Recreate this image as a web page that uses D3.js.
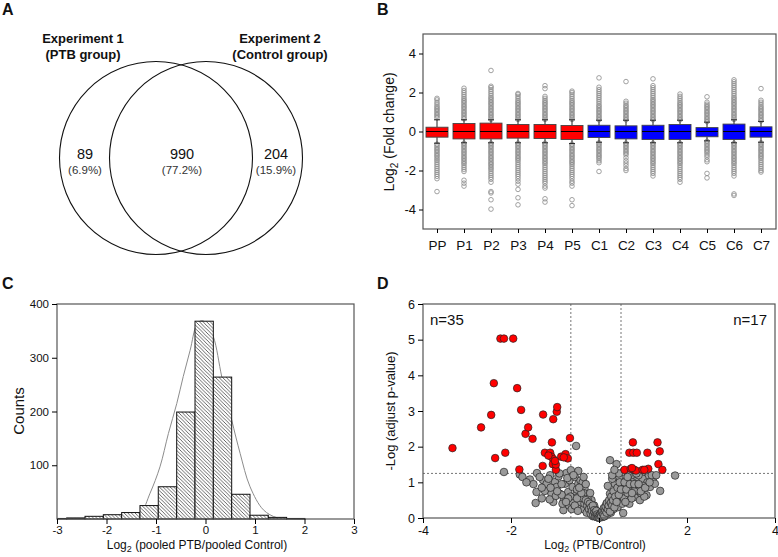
<!DOCTYPE html>
<html><head><meta charset="utf-8">
<script src="https://cdn.jsdelivr.net/npm/d3@7"></script>
<style>body{margin:0;background:#fff}svg{display:block}text{font-family:Arial,"Liberation Sans",sans-serif;fill:#111}</style>
</head><body><svg id="c" width="778" height="557"></svg>
<script>
// ---------- Panel A data ----------
const vennTitles = [["Experiment 1","(PTB group)"],["Experiment 2","(Control group)"]];
const vennCounts = [89, 990, 204];
const vennPct = ["(6.9%)","(77.2%)","(15.9%)"];

// ---------- Panel B data ----------
const boxCats = ["PP","P1","P2","P3","P4","P5","C1","C2","C3","C4","C5","C6","C7"];
const boxGroup = ["P","P","P","P","P","P","C","C","C","C","C","C","C"];
const boxQ1 = [-0.29,-0.38,-0.38,-0.34,-0.36,-0.41,-0.31,-0.38,-0.41,-0.41,-0.27,-0.41,-0.29];
const boxMed = [0,0,0,0,0,0,0,0,0,0,0,0,0];
const boxQ3 = [0.22,0.41,0.43,0.36,0.36,0.31,0.32,0.29,0.32,0.36,0.20,0.38,0.24];
const boxLow = [-0.6,-0.58,-0.58,-0.58,-0.58,-0.62,-0.55,-0.58,-0.58,-0.58,-0.48,-0.58,-0.55];
const boxHigh = [0.6,0.6,0.6,0.6,0.6,0.6,0.58,0.58,0.58,0.58,0.48,0.6,0.52];
const boxOut = [
 [0.7,0.78,0.85,0.92,1.0,1.08,1.15,1.22,1.3,1.4,1.5,1.62,1.7,-0.65,-0.72,-0.8,-0.88,-0.95,-1.02,-1.1,-1.18,-1.25,-1.33,-1.42,-1.5,-1.6,-1.7,-1.8,-1.9,-2.0,-2.1,-2.2,-2.3,-2.42,-3.08],
 [0.65,0.72,0.8,0.88,0.95,1.02,1.1,1.18,1.25,1.32,1.4,1.48,1.55,1.62,1.7,1.8,1.9,2.0,2.1,2.22,-0.6,-0.68,-0.75,-0.82,-0.9,-0.98,-1.05,-1.12,-1.2,-1.28,-1.35,-1.42,-1.5,-1.58,-1.65,-1.75,-1.85,-1.95,-2.05,-2.5,-2.65,-2.8],
 [0.62,0.7,0.78,0.85,0.92,1.0,1.08,1.15,1.22,1.3,1.38,1.45,1.52,1.6,1.68,1.75,1.85,1.95,2.05,2.15,2.25,2.32,3.13,-0.6,-0.68,-0.75,-0.82,-0.9,-0.98,-1.05,-1.12,-1.2,-1.28,-1.35,-1.42,-1.5,-1.58,-1.65,-1.72,-1.8,-1.88,-1.95,-2.05,-2.15,-2.25,-2.35,-2.45,-2.6,-3.08,-3.15,-3.5,-3.98],
 [0.62,0.7,0.78,0.85,0.92,1.0,1.08,1.15,1.22,1.3,1.38,1.45,1.52,1.6,1.7,1.8,1.9,1.95,-0.6,-0.68,-0.75,-0.82,-0.9,-0.98,-1.05,-1.12,-1.2,-1.28,-1.35,-1.42,-1.5,-1.6,-1.7,-1.8,-1.9,-2.0,-2.1,-2.2,-2.3,-2.42,-2.55,-2.7,-2.97,-3.4,-3.76],
 [0.62,0.7,0.78,0.85,0.92,1.0,1.08,1.15,1.22,1.3,1.38,1.45,1.52,1.6,1.7,1.8,2.2,2.35,-0.6,-0.68,-0.75,-0.82,-0.9,-0.98,-1.05,-1.12,-1.2,-1.28,-1.35,-1.42,-1.5,-1.58,-1.65,-1.75,-1.85,-1.95,-2.05,-2.15,-2.25,-2.35,-2.45,-2.55,-2.65,-2.8,-2.9,-3.45,-3.62],
 [0.62,0.7,0.78,0.85,0.92,1.0,1.08,1.15,1.22,1.3,1.38,1.45,1.52,1.6,1.7,1.8,1.9,2.0,2.07,-0.65,-0.72,-0.8,-0.88,-0.95,-1.02,-1.1,-1.18,-1.25,-1.32,-1.4,-1.48,-1.55,-1.62,-1.7,-1.8,-1.9,-2.0,-2.1,-2.2,-2.3,-2.42,-2.55,-2.65,-2.8,-3.5,-3.8],
 [0.6,0.68,0.75,0.82,0.9,0.98,1.05,1.12,1.2,1.28,1.35,1.45,1.55,1.65,1.75,1.85,1.95,2.05,2.15,2.27,2.75,-0.58,-0.65,-0.72,-0.8,-0.88,-0.95,-1.02,-1.1,-1.18,-1.25,-1.32,-1.4,-1.5,-1.6,-2.05],
 [0.6,0.68,0.75,0.82,0.9,0.98,1.05,1.12,1.2,1.28,1.35,1.45,1.55,2.56,-0.6,-0.68,-0.75,-0.82,-0.9,-0.98,-1.05,-1.12,-1.2,-1.35,-1.5,-1.62,-1.75,-1.9,-2.0],
 [0.6,0.68,0.75,0.82,0.9,0.98,1.05,1.12,1.2,1.28,1.35,1.42,1.5,1.58,1.65,1.75,1.85,1.95,2.05,2.15,2.25,2.35,2.7,-0.6,-0.68,-0.75,-0.82,-0.9,-0.98,-1.05,-1.12,-1.2,-1.28,-1.35,-1.42,-1.5,-1.58,-1.65,-1.75,-1.85,-1.95,-2.05,-2.15,-2.28],
 [0.6,0.68,0.75,0.82,0.9,0.98,1.05,1.12,1.2,1.28,1.35,1.42,1.5,1.6,1.7,1.8,1.92,-0.6,-0.68,-0.75,-0.82,-0.9,-0.98,-1.05,-1.12,-1.2,-1.28,-1.35,-1.42,-1.5,-1.58,-1.65,-1.75,-1.85,-1.95,-2.05,-2.15,-2.25,-2.35,-2.45,-2.6],
 [0.5,0.58,0.65,0.72,0.8,0.88,0.95,1.02,1.1,1.18,1.25,1.32,1.4,1.5,1.78,-0.5,-0.58,-0.65,-0.72,-0.8,-0.88,-0.95,-1.02,-1.1,-1.2,-1.3,-1.45,-1.55,-2.15,-2.38],
 [0.62,0.7,0.78,0.85,0.92,1.0,1.08,1.15,1.22,1.3,1.38,1.45,1.52,1.6,1.68,1.75,1.85,1.95,2.05,2.15,2.25,2.35,2.45,2.55,2.65,-0.6,-0.68,-0.75,-0.82,-0.9,-0.98,-1.05,-1.12,-1.2,-1.28,-1.35,-1.42,-1.5,-1.58,-1.65,-1.75,-1.85,-1.95,-2.05,-2.15,-2.28,-3.2,-3.28],
 [0.55,0.62,0.7,0.78,0.85,0.92,1.0,1.08,1.15,1.22,1.3,1.4,1.5,1.6,2.2,-0.58,-0.65,-0.72,-0.8,-0.88,-0.95,-1.02,-1.1,-1.18,-1.25,-1.32,-1.4,-1.5,-1.6,-1.7,-1.8,-1.9,-2.0,-2.08]
];
const boxYTicks = [-4,-2,0,2,4];

// ---------- Panel C data ----------
const histEdges = [-3.174,-2.804,-2.434,-2.064,-1.694,-1.324,-0.954,-0.582,-0.212,0.158,0.529,0.899,1.269,1.639,2.009];
const histCounts = [1,2,5,8,12,25,60,199,368,264,46,7,3,1];
const fitX = [-2.0,-1.6,-1.32,-1.12,-0.92,-0.75,-0.58,-0.45,-0.31,-0.18,-0.08,0.02,0.16,0.33,0.53,0.70,0.90,1.17,1.44,1.7,2.0];
const fitY = [0.3,3,10.5,48,97,159,215,265,314,361,369,364,339,264,184,122,60,17,2.5,0.5,0];
const histXTicks = [-3,-2,-1,0,1,2,3];
const histYTicks = [100,200,300,400];

// ---------- Panel D data ----------
const redX = [-3.33,-2.68,-2.45,-2.39,-2.36,-2.24,-2.16,-1.95,-2.13,-1.86,-1.81,-1.77,-1.67,-1.61,-1.51,-1.28,-1.27,-1.23,-1.11,-1.08,-1.07,-1.04,-1.05,-0.98,-0.96,-0.95,-1.04,-0.86,-0.76,-0.71,-0.66,-0.98,-1.15,-0.8,-1.0,
  0.77,1.33,0.69,0.78,0.86,1.10,1.38,1.35,0.58,0.72,0.80,0.84,0.99,1.12,1.44,1.03,0.75];
const redY = [1.96,2.54,2.89,3.78,1.68,5.03,5.03,5.03,1.83,3.64,1.36,3.03,2.36,2.54,2.22,1.46,2.90,1.83,1.83,1.72,2.12,1.65,1.51,1.35,2.98,3.11,2.77,1.72,1.79,1.67,2.24,1.50,1.75,1.70,1.60,
  2.12,2.12,1.83,1.83,1.83,1.83,1.87,1.51,1.35,1.38,1.35,1.33,1.35,1.38,1.35,1.35,1.40];
const greyX = [-2.16,-1.80,-1.74,-1.57,-1.49,-1.44,-1.42,-1.41,-1.27,-1.23,-1.19,-1.11,-1.08,-1.04,-1.0,-0.96,-0.92,-0.89,-0.81,-0.80,-0.77,-0.74,-0.70,-0.67,-0.64,-0.62,-0.60,-0.52,-0.47,-0.55,-0.51,-0.47,-0.43,-0.39,-0.36,-0.32,-0.28,-0.24,-0.20,-0.17,-0.13,-0.09,-0.05,0,
  -1.65,-1.35,-1.30,-1.15,-1.12,-0.98,-0.85,-0.83,-0.72,-0.68,-0.58,-0.57,-0.45,-0.42,-0.40,-0.37,-0.33,-0.30,-0.29,-0.26,-0.22,-0.21,-0.19,-0.15,-0.14,-0.12,-0.11,-0.08,-0.07,-0.04,-0.03,-0.02,-0.35,-0.5,-0.62,-0.9,-0.55,-0.25,-0.16,-0.06,
  -0.45,-0.42,-0.38,-0.35,-0.33,-0.30,-0.28,-0.27,-0.25,-0.23,-0.21,-0.19,-0.18,-0.16,-0.14,-0.13,-0.11,-0.10,-0.09,-0.07,-0.06,-0.05,-0.04,-0.02,-0.01,-0.60,-0.65,-0.55,-0.50,-0.48,-0.70,-0.75,-0.85,-0.95,-1.10,-1.30,-0.40,-0.45,-0.30,-0.35,-0.20,
  0.06,0.10,0.14,0.17,0.21,0.25,0.25,0.31,0.36,0.40,0.40,0.46,0.48,0.52,0.55,0.59,0.63,0.69,0.72,0.78,0.82,0.86,0.89,0.93,0.97,1.01,1.05,1.08,1.12,1.16,1.24,1.27,1.39,1.73,
  0.03,0.05,0.08,0.09,0.12,0.13,0.16,0.19,0.2,0.23,0.27,0.29,0.33,0.35,0.38,0.42,0.44,0.5,0.53,0.57,0.61,0.65,0.67,0.74,0.76,0.8,0.84,0.88,0.95,0.99,1.03,1.1,1.2,0.3,0.45,0.6,0.7,0.9,1.0,
  0.01,0.02,0.04,0.05,0.07,0.08,0.10,0.11,0.12,0.14,0.15,0.17,0.18,0.20,0.22,0.23,0.25,0.27,0.28,0.30,0.32,0.33,0.35,0.37,0.40,0.42,0.45,0.47,0.50,0.55,0.58,0.62,0.65,0.70,0.75,0.80,0.85,0.90,0.95,1.05,1.15,1.30,0.30,0.35,0.20];
const greyY = [1.29,1.22,1.15,1.08,0.95,0.42,0.73,1.26,1.06,0.76,0.96,1.20,0.68,0.45,1.01,0.87,1.17,0.68,0.22,0.50,0.96,1.26,0.73,1.06,1.34,0.59,0.87,2.02,1.32,1.15,0.68,0.96,0.50,0.82,0.31,0.59,0.68,0.40,0.22,0.50,0.12,0.26,0.07,0.01,
  1.0,1.15,0.55,1.1,0.52,0.62,0.95,0.4,1.12,0.35,1.2,0.55,0.62,1.05,0.28,1.0,0.82,0.45,0.2,0.55,0.35,0.15,0.3,0.22,0.05,0.15,0.35,0.1,0.2,0.12,0.02,0.05,0.7,0.8,0.25,1.25,0.35,0.18,0.08,0.03,
  0.30,0.45,0.55,0.25,0.40,0.50,0.15,0.35,0.45,0.25,0.40,0.12,0.30,0.20,0.35,0.08,0.22,0.15,0.05,0.12,0.20,0.03,0.10,0.06,0.01,0.45,0.60,0.35,0.55,0.20,0.55,0.45,0.65,0.75,0.85,0.85,0.70,0.85,0.95,1.15,0.70,
  0.07,0.22,0.12,0.40,0.31,1.62,0.68,0.54,0.96,1.51,0.78,1.15,0.50,0.87,1.29,0.68,1.06,0.40,0.87,1.15,0.59,1.06,0.78,0.50,1.25,0.87,1.06,0.64,1.15,0.87,1.15,0.96,0.76,1.19,
  0.02,0.15,0.03,0.1,0.18,0.05,0.25,0.1,0.35,0.28,0.15,0.48,0.25,0.7,0.45,0.3,0.6,0.95,0.4,0.55,0.85,0.7,1.2,0.55,1.0,0.75,0.95,1.25,0.7,1.1,0.6,1.0,1.2,1.1,1.25,0.45,0.95,1.2,0.9,
  0.01,0.08,0.12,0.05,0.15,0.20,0.10,0.28,0.05,0.22,0.32,0.15,0.42,0.25,0.35,0.50,0.18,0.42,0.60,0.35,0.50,0.75,0.30,0.60,0.45,0.85,0.65,1.00,0.80,0.14,1.00,0.80,1.15,0.95,0.70,0.95,1.25,0.95,0.75,0.85,1.00,1.20,1.20,1.35,0.90];
const volXTicks = [-4,-2,0,2,4];
const volYTicks = [0,1,2,3,4,5,6];
const volThrY = [1.25];
const volThrX = [-0.64, 0.5];
const volN = ["n=35","n=17"];

const svg = d3.select("#c");
const defs = svg.append("defs");

// Panel labels
const panelLabels = [["A",2,15],["B",377,15],["C",2,289],["D",377,289]];
svg.selectAll("text.plab").data(panelLabels).join("text").attr("class","plab")
  .attr("x",d=>d[1]).attr("y",d=>d[2]).text(d=>d[0])
  .style("font-weight","bold").style("font-size","16px");

// ================= Panel A =================
{
  const g = svg.append("g");
  const cy = 158, r = 96.5;
  const cxs = [156, 206];
  g.selectAll("circle").data(cxs).join("circle").attr("cx",d=>d).attr("cy",cy).attr("r",r)
    .attr("fill","none").attr("stroke","#111").attr("stroke-width",1.1);
  const tx = [83, 280];
  vennTitles.forEach((t,i)=>{
    t.forEach((s,j)=>{
      g.append("text").attr("x",tx[i]).attr("y",43+j*15.5).attr("text-anchor","middle")
        .style("font-weight","bold").style("font-size","13px").text(s);
    });
  });
  const px = [85, 182, 276];
  vennCounts.forEach((v,i)=>{
    g.append("text").attr("x",px[i]).attr("y",159).attr("text-anchor","middle").style("font-size","14.5px").text(v);
    g.append("text").attr("x",px[i]).attr("y",174).attr("text-anchor","middle").style("font-size","11.5px").style("fill","#333").text(vennPct[i]);
  });
}

// ================= Panel B =================
{
  const g = svg.append("g");
  const x = d3.scalePoint().domain(boxCats).range([437,761]);
  const y = d3.scaleLinear().domain([-5,5]).range([229,34]);
  const bw = 22;
  boxCats.forEach((c,i)=>{
    const cx = x(c);
    g.selectAll(null).data(boxOut[i]).join("circle").attr("cx",cx).attr("cy",d=>y(d)).attr("r",2.3)
      .attr("fill","none").attr("stroke","#8a8a8a").attr("stroke-width",0.8);
  });
  boxCats.forEach((c,i)=>{
    const cx = x(c);
    const col = boxGroup[i]==="P" ? "#ff0000" : "#0000ff";
    g.append("line").attr("x1",cx).attr("x2",cx).attr("y1",y(boxQ3[i])).attr("y2",y(boxHigh[i])).attr("stroke","#222");
    g.append("line").attr("x1",cx).attr("x2",cx).attr("y1",y(boxQ1[i])).attr("y2",y(boxLow[i])).attr("stroke","#222");
    g.append("line").attr("x1",cx-3).attr("x2",cx+3).attr("y1",y(boxHigh[i])).attr("y2",y(boxHigh[i])).attr("stroke","#222");
    g.append("line").attr("x1",cx-3).attr("x2",cx+3).attr("y1",y(boxLow[i])).attr("y2",y(boxLow[i])).attr("stroke","#222");
    g.append("rect").attr("x",cx-bw/2).attr("width",bw).attr("y",y(boxQ3[i])).attr("height",y(boxQ1[i])-y(boxQ3[i]))
      .attr("fill",col).attr("stroke","#444").attr("stroke-width",0.9);
    g.append("line").attr("x1",cx-bw/2).attr("x2",cx+bw/2).attr("y1",y(boxMed[i])).attr("y2",y(boxMed[i])).attr("stroke","#000").attr("stroke-width",1);
  });
  g.append("rect").attr("x",423).attr("y",34).attr("width",353).attr("height",195).attr("fill","none").attr("stroke","#555").attr("stroke-width",1.2);
  const ay = g.append("g").attr("transform","translate(423,0)").call(d3.axisLeft(y).tickValues(boxYTicks).tickSize(4).tickFormat(d=>String(d)));
  ay.select(".domain").remove();
  ay.selectAll("text").style("font-size","13px");
  const ax = g.append("g").attr("transform","translate(0,229)").call(d3.axisBottom(x).tickSize(4));
  ax.select(".domain").remove();
  ax.selectAll("text").style("font-size","13.5px").attr("dy","1.05em");
  const yl = g.append("text").attr("transform","translate(394,132) rotate(-90)").attr("text-anchor","middle").style("font-size","14px");
  yl.append("tspan").text("Log");
  yl.append("tspan").attr("dy",4).style("font-size","10px").text("2");
  yl.append("tspan").attr("dy",-4).text(" (Fold change)");
}

// ================= Panel C =================
{
  const g = svg.append("g");
  const x = d3.scaleLinear().domain([-3,3]).range([57,354]);
  const y = d3.scaleLinear().domain([0,400]).range([519,304]);
  const pat = defs.append("pattern").attr("id","hatch").attr("patternUnits","userSpaceOnUse").attr("width",3.6).attr("height",3.6);
  pat.append("rect").attr("width",3.6).attr("height",3.6).attr("fill","#fff");
  pat.append("path").attr("d","M-0.9,2.7 L0.9,4.5 M0,0 L3.6,3.6 M2.7,-0.9 L4.5,0.9").attr("stroke","#333").attr("stroke-width",0.75);
  defs.append("clipPath").attr("id","clipC").append("rect").attr("x",57).attr("y",300).attr("width",297).attr("height",220);
  const line = d3.line().x((d,i)=>x(fitX[i])).y((d,i)=>y(fitY[i])).curve(d3.curveCatmullRom);
  g.append("path").attr("d",line(fitX)).attr("fill","none").attr("stroke","#8c8c8c").attr("stroke-width",1);
  const bars = histCounts.map((c,i)=>({x0:histEdges[i],x1:histEdges[i+1],c}));
  g.append("g").attr("clip-path","url(#clipC)").selectAll("rect").data(bars).join("rect")
    .attr("x",d=>x(d.x0)).attr("width",d=>x(d.x1)-x(d.x0)).attr("y",d=>y(d.c)).attr("height",d=>y(0)-y(d.c))
    .attr("fill","url(#hatch)").attr("stroke","#111").attr("stroke-width",1);
  g.append("rect").attr("x",57).attr("y",304).attr("width",297).attr("height",215).attr("fill","none").attr("stroke","#555").attr("stroke-width",1.2);
  const ay = g.append("g").attr("transform","translate(57,0)").call(d3.axisLeft(y).tickValues(histYTicks).tickSize(5));
  ay.select(".domain").remove();
  ay.selectAll("text").style("font-size","11.5px");
  const ax = g.append("g").attr("transform","translate(0,519)").call(d3.axisBottom(x).tickValues(histXTicks).tickSize(5).tickFormat(d=>String(d)));
  ax.select(".domain").remove();
  ax.selectAll("text").style("font-size","11.5px").attr("dy","0.6em");
  g.append("text").attr("transform","translate(24,411) rotate(-90)").attr("text-anchor","middle").style("font-size","15px").text("Counts");
  const xl = g.append("text").attr("x",197).attr("y",549).attr("text-anchor","middle").style("font-size","12px");
  xl.append("tspan").text("Log");
  xl.append("tspan").attr("dy",3).style("font-size","9px").text("2");
  xl.append("tspan").attr("dy",-3).text(" (pooled PTB/pooled Control)");
}

// ================= Panel D =================
{
  const g = svg.append("g");
  const x = d3.scaleLinear().domain([-4,4]).range([423,775]);
  const y = d3.scaleLinear().domain([0,6]).range([518,304]);
  g.selectAll("line.vt").data(volThrX).join("line").attr("class","vt").attr("x1",d=>x(d)).attr("x2",d=>x(d)).attr("y1",304).attr("y2",518)
    .attr("stroke","#666").attr("stroke-dasharray","2,2").attr("stroke-width",0.9);
  g.selectAll("line.ht").data(volThrY).join("line").attr("class","ht").attr("x1",423).attr("x2",775).attr("y1",d=>y(d)).attr("y2",d=>y(d))
    .attr("stroke","#666").attr("stroke-dasharray","2,2").attr("stroke-width",0.9);
  g.selectAll("circle.gr").data(greyX).join("circle").attr("class","gr").attr("cx",d=>x(d)).attr("cy",(d,i)=>y(greyY[i])).attr("r",3.8)
    .attr("fill","#9a9a9a").attr("stroke","#222").attr("stroke-width",0.7);
  g.selectAll("circle.rd").data(redX).join("circle").attr("class","rd").attr("cx",d=>x(d)).attr("cy",(d,i)=>y(redY[i])).attr("r",3.8)
    .attr("fill","#ff0000").attr("stroke","#222").attr("stroke-width",0.7);
  g.append("rect").attr("x",423).attr("y",304).attr("width",352).attr("height",214).attr("fill","none").attr("stroke","#555").attr("stroke-width",1.2);
  const ay = g.append("g").attr("transform","translate(423,0)").call(d3.axisLeft(y).tickValues(volYTicks).tickSize(5).tickFormat(d=>String(d)));
  ay.select(".domain").remove();
  ay.selectAll("text").style("font-size","12.5px");
  const ax = g.append("g").attr("transform","translate(0,518)").call(d3.axisBottom(x).tickValues(volXTicks).tickSize(5).tickFormat(d=>String(d)));
  ax.select(".domain").remove();
  ax.selectAll("text").style("font-size","12.5px").attr("dy","0.75em");
  g.append("text").attr("x",430).attr("y",325).style("font-size","15px").text(volN[0]);
  g.append("text").attr("x",767).attr("y",325).attr("text-anchor","end").style("font-size","15px").text(volN[1]);
  g.append("text").attr("transform","translate(395,411) rotate(-90)").attr("text-anchor","middle").style("font-size","13px").text("-Log (adjust p-value)");
  const xl = g.append("text").attr("x",595).attr("y",549).attr("text-anchor","middle").style("font-size","12px");
  xl.append("tspan").text("Log");
  xl.append("tspan").attr("dy",3).style("font-size","9px").text("2");
  xl.append("tspan").attr("dy",-3).text(" (PTB/Control)");
}
</script></body></html>
